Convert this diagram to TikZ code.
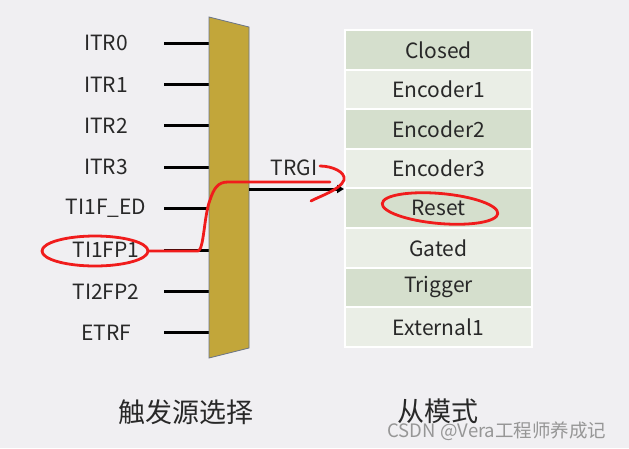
\documentclass[tikz,border=0pt]{standalone}
\usepackage{fontspec}
\setmainfont{Noto Sans CJK SC}
\usetikzlibrary{positioning, arrows.meta, calc}

\definecolor{bgcol}{RGB}{240,239,242}
\definecolor{muxgold}{RGB}{194,166,58}
\definecolor{muxedge}{RGB}{105,115,135}
\definecolor{rowdark}{RGB}{213,223,205}
\definecolor{rowlight}{RGB}{234,238,230}
\definecolor{penred}{RGB}{240,28,28}
\definecolor{inkgray}{RGB}{40,40,40}
\definecolor{wmgray}{RGB}{150,150,150}

\tikzset{
  srclabel/.style={font=\fontsize{21}{23}\selectfont, text=inkgray, inner sep=1pt},
  modecell/.style={draw=white, line width=2pt, minimum width=187pt, minimum height=39.6pt,
    inner sep=0pt, font=\fontsize{21}{23}\selectfont, text=inkgray},
  wire/.style={line width=3pt},
  redmark/.style={draw=penred, line width=2.8pt, line cap=round, line join=round},
}

\begin{document}
\begin{tikzpicture}[x=1pt, y=-1pt]
    \useasboundingbox[fill=bgcol] (0,0) rectangle (629,448);

    % --- Trigger source inputs ---
    \foreach \src [count=\i] in {ITR0,ITR1,ITR2,ITR3,TI1F\_ED,TI1FP1,TI2FP2,ETRF} {
        \pgfmathsetmacro\yy{43.3+41.34*(\i-1)}
        \node[srclabel] (src\i) at (106,\yy) {\src};
        \coordinate (wa\i) at (164,\yy);
        \coordinate (wb\i) at (209,\yy);
        \draw[wire] (wa\i) -- (wb\i);
    }

    % --- Selector (trapezoid mux) ---
    \filldraw[fill=muxgold, draw=muxedge, line width=0.8pt]
        (209,17) -- (249,27) -- (249,348) -- (209,358) -- cycle;
    \coordinate (muxout) at (249,189);

    % --- Slave mode table ---
    \foreach \mode/\shade [count=\j] in {Closed/rowdark,Encoder1/rowlight,Encoder2/rowdark,
        Encoder3/rowlight,Reset/rowdark,Gated/rowlight,Trigger/rowdark,External1/rowlight} {
        \pgfmathsetmacro\yy{49.8+39.6*(\j-1)}
        \node[modecell, fill=\shade] (mode\j) at (438.5,\yy) {\mode};
    }

    % --- TRGI output ---
    \coordinate (trgi) at (344,189);
    \draw[wire, -{Triangle[length=7pt,width=8pt]}] (muxout) -- (trgi);
    \node[srclabel] (trgilbl) at (294,168) {TRGI};

    % --- Captions ---
    \node[font=\fontsize{27}{29}\selectfont, text=inkgray] (srcsel) at (186,412) {触发源选择};
    \node[font=\fontsize{27}{29}\selectfont, text=inkgray] (slave) at (438,411) {从模式};
    \node[font=\fontsize{18.5}{20}\selectfont, text=wmgray] (wm) at (497,431) {CSDN @Vera工程师养成记};

    % --- Red pen marks ---
    \draw[redmark] ($(src6)+(-11,1)$) ellipse [x radius=53, y radius=15];
    \draw[redmark] (148,251) -- (198,251)
        .. controls (204,250) and (204,215) .. (210,200)
        .. controls (214,188) and (218,182) .. (228,182) -- (330,182);
    \draw[redmark] (320,166) .. controls (332,166) and (346,172) .. (344,180)
        .. controls (340,190) and (320,196) .. (311,201);
    \draw[redmark, rotate around={-5:(440,208.5)}] (440,208.5) ellipse [x radius=58, y radius=15];
\end{tikzpicture}
\end{document}
